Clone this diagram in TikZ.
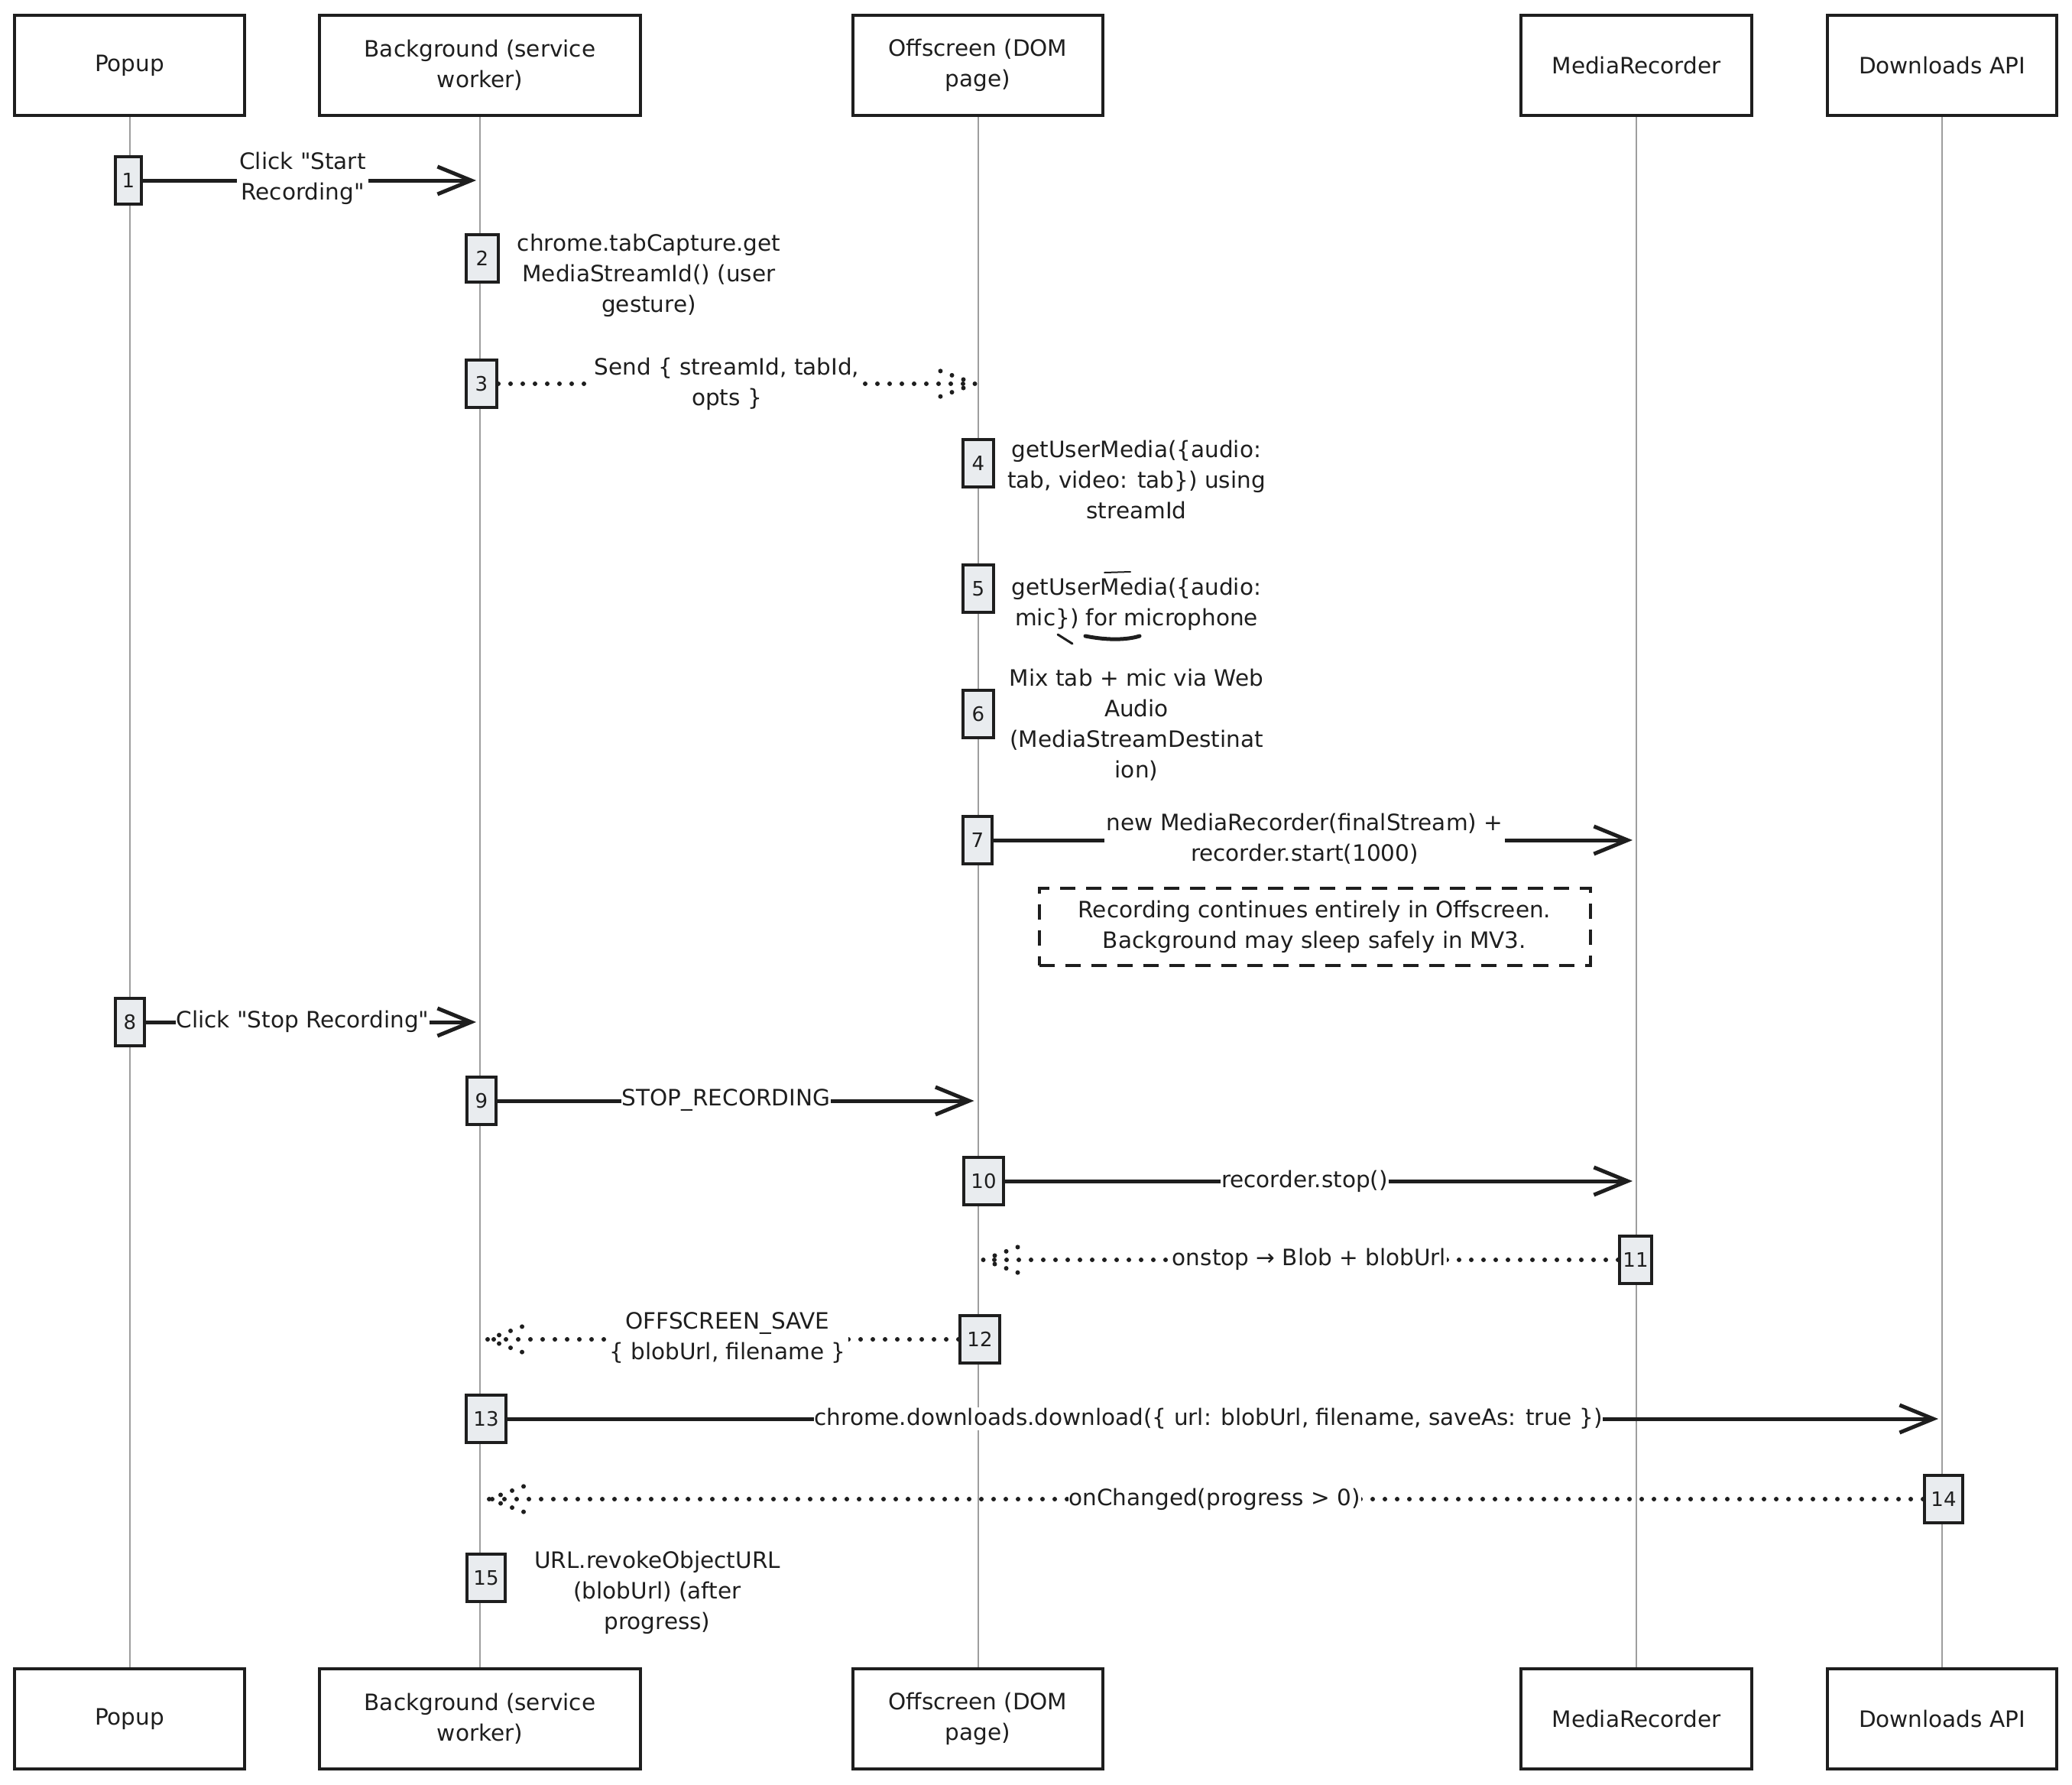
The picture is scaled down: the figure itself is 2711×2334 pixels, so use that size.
\documentclass[tikz,border=0pt]{standalone}
\usepackage{fontspec}
\newfontfamily\handfont{DejaVu Sans}
\usetikzlibrary{arrows.meta}
\definecolor{ink}{HTML}{1E1E1E}
\definecolor{actfill}{HTML}{E9ECEF}
\definecolor{lifegray}{HTML}{9E9E9E}
\tikzset{
  txt/.style={font=\handfont\fontsize{29.5}{40}\selectfont, text=ink, align=center},
  actor/.style={txt, draw=ink, line width=4pt, fill=white, minimum height=131pt, inner sep=0pt},
  act/.style={draw=ink, line width=4pt, fill=actfill, minimum height=62pt, inner sep=0pt,
              font=\handfont\fontsize{26}{30}\selectfont, text=ink},
  lifeline/.style={draw=lifegray, line width=2pt},
  msg/.style={draw=ink, line width=5pt, -{Straight Barb[length=44pt,width=36pt]}, shorten >=5pt},
  dotmsg/.style={draw=ink, line width=6pt, line cap=round, dash pattern=on 0pt off 16pt},
  lbl/.style={txt, fill=white, inner sep=3pt},
  notebox/.style={txt, draw=ink, line width=4pt, dash pattern=on 20pt off 14pt,
                  minimum width=721pt, minimum height=101pt},
  sidetxt/.style={txt},
  scribble/.style={draw=ink, line cap=round},
}
\begin{document}
\begin{tikzpicture}[x=1pt,y=-1pt]
\path[fill=white] (0,0) rectangle (2711,2334);
\useasboundingbox (0,0) rectangle (2711,2334);

% actors top
\node[actor, minimum width=301pt] (popT) at (169.5,85.5) {Popup};
\node[actor, minimum width=420pt] (bgT)  at (628,85.5) {Background (service\\worker)};
\node[actor, minimum width=327pt] (offT) at (1279.5,85.5) {Offscreen (DOM\\page)};
\node[actor, minimum width=302pt] (mrT)  at (2141,85.5) {MediaRecorder};
\node[actor, minimum width=300pt] (dlT)  at (2541,85.5) {Downloads API};
% actors bottom
\node[actor, minimum width=301pt] (popB) at (169.5,2248.5) {Popup};
\node[actor, minimum width=420pt] (bgB)  at (628,2248.5) {Background (service\\worker)};
\node[actor, minimum width=327pt] (offB) at (1279.5,2248.5) {Offscreen (DOM\\page)};
\node[actor, minimum width=302pt] (mrB)  at (2141,2248.5) {MediaRecorder};
\node[actor, minimum width=300pt] (dlB)  at (2541,2248.5) {Downloads API};

% lifelines
\draw[lifeline] (popT.south) -- (popB.north);
\draw[lifeline] (bgT.south) -- (bgB.north);
\draw[lifeline] (offT.south) -- (offB.north);
\draw[lifeline] (mrT.south) -- (mrB.north);
\draw[lifeline] (dlT.south) -- (dlB.north);

% activation boxes
\node[act, minimum width=34pt] (a1)  at (168,236) {1};
\node[act, minimum width=42pt] (a2)  at (631,338) {2};
\node[act, minimum width=40pt] (a3)  at (630,502) {3};
\node[act, minimum width=40pt] (a4)  at (1280,606) {4};
\node[act, minimum width=40pt] (a5)  at (1280,770) {5};
\node[act, minimum width=40pt] (a6)  at (1280,934) {6};
\node[act, minimum width=38pt] (a7)  at (1279,1099) {7};
\node[act, minimum width=38pt] (a8)  at (170,1337) {8};
\node[act, minimum width=38pt] (a9)  at (630,1440) {9};
\node[act, minimum width=52pt] (a10) at (1287,1545) {10};
\node[act, minimum width=42pt] (a11) at (2140,1648) {11};
\node[act, minimum width=52pt] (a12) at (1282,1752) {12};
\node[act, minimum width=52pt] (a13) at (636,1856) {13};
\node[act, minimum width=50pt] (a14) at (2543,1961) {14};
\node[act, minimum width=50pt] (a15) at (636,2064) {15};

% messages
\draw[msg] (a1.east) -- (a1.east -| bgT);
\node[lbl] (l1) at (396,233) {Click "Start\\Recording"};

\node[sidetxt] (s2) at (849,360) {chrome.tabCapture.get\\MediaStreamId() (user\\gesture)};

\path (a3.east -| offT) ++(-4,0) coordinate (t3);
\draw[dotmsg] (a3.east) -- (t3);
\draw[dotmsg] (t3) -- ++(-46,-17) (t3) -- ++(-46,17);
\node[lbl] (l3) at (951,502) {Send \{ streamId, tabId,\\opts \}};

\node[sidetxt] (s4) at (1487,627) {getUserMedia(\{audio:\\tab, video: tab\}) using\\streamId};
\node[sidetxt] (s5) at (1487,790) {getUserMedia(\{audio:\\mic\}) for microphone};
\draw[scribble, line width=2pt] (1445,749) -- (1479,748);
\draw[scribble, line width=3pt] (1384,830) -- (1403,842);
\draw[scribble, line width=5pt] (1420,832) .. controls (1450,838) and (1475,837) .. (1491,832);
\node[sidetxt] (s6) at (1487,948) {Mix tab + mic via Web\\Audio\\(MediaStreamDestinat\\ion)};

\draw[msg] (a7.east) -- (a7.east -| mrT);
\node[lbl] (l7) at (1707,1097) {new MediaRecorder(finalStream) +\\recorder.start(1000)};

\node[notebox] (n1) at (1720,1212) {Recording continues entirely in Offscreen.\\Background may sleep safely in MV3.};

\draw[msg] (a8.east) -- (a8.east -| bgT);
\node[lbl, inner sep=1pt] (l8) at (396,1336) {Click "Stop Recording"};

\draw[msg] (a9.east) -- (a9.east -| offT);
\node[lbl, inner sep=1pt] (l9) at (950,1439) {STOP\_RECORDING};

\draw[msg] (a10.east) -- (a10.east -| mrT);
\node[lbl, inner sep=1pt] (l10) at (1707,1545) {recorder.stop()};

\path (a11.west -| offT) ++(7,0) coordinate (t11);
\draw[dotmsg] (a11.west) -- (t11);
\draw[dotmsg] (t11) -- ++(46,-17) (t11) -- ++(46,17);
\node[lbl, inner sep=1pt] (l11) at (1713,1647) {onstop → Blob + blobUrl};

\path (a12.west -| bgT) ++(10,0) coordinate (t12);
\draw[dotmsg] (a12.west) -- (t12);
\draw[dotmsg] (t12) -- ++(46,-17) (t12) -- ++(46,17);
\node[lbl] (l12) at (952,1750) {OFFSCREEN\_SAVE\\\{ blobUrl, filename \}};

\draw[msg] (a13.east) -- (a13.east -| dlT);
\node[lbl, inner sep=1pt] (l13) at (1581,1856) {chrome.downloads.download(\{ url: blobUrl, filename, saveAs: true \})};

\path (a14.west -| bgT) ++(12,0) coordinate (t14);
\draw[dotmsg] (a14.west) -- (t14);
\draw[dotmsg] (t14) -- ++(46,-17) (t14) -- ++(46,17);
\node[lbl, inner sep=1pt] (l14) at (1589,1961) {onChanged(progress > 0)};

\node[sidetxt] (s15) at (860,2083) {URL.revokeObjectURL\\(blobUrl) (after\\progress)};
\end{tikzpicture}
\end{document}
